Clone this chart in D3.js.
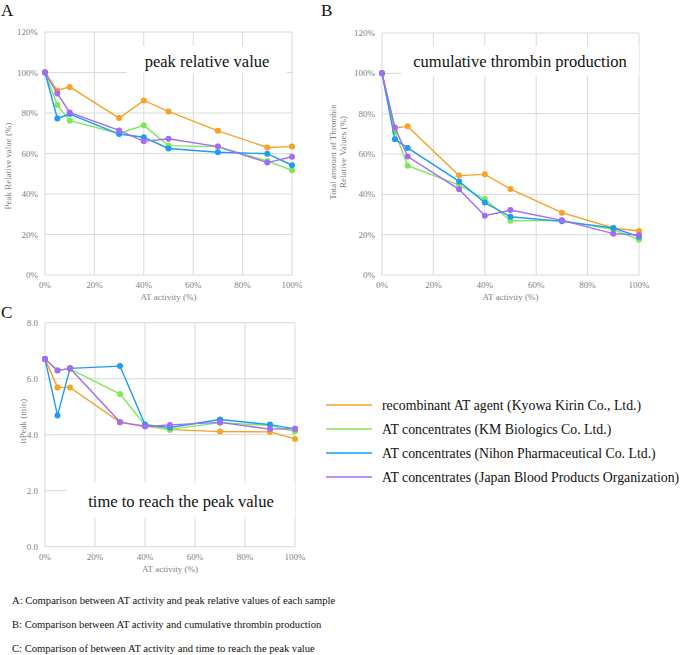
<!DOCTYPE html>
<html>
<head>
<meta charset="utf-8">
<script src="https://cdn.jsdelivr.net/npm/d3@7"></script>
<style>
  body { margin: 0; background: #fff; }
  svg { display: block; }
  text { font-family: "Liberation Serif", "Times New Roman", "DejaVu Serif", serif; }
</style>
</head>
<body>
<div id="chart"></div>
<script>
// AT activity levels (x values, %)
var atActivity = [0, 5, 10, 30, 40, 50, 70, 90, 100];

var seriesNames = [
  "recombinant AT agent (Kyowa Kirin Co., Ltd.)",
  "AT concentrates (KM Biologics Co. Ltd.)",
  "AT concentrates (Nihon Pharmaceutical Co. Ltd.)",
  "AT concentrates (Japan Blood Products Organization)"
];
var seriesColors = ["#f7a226", "#7ee85c", "#1d9cf2", "#a46cf2"];

// A: peak relative value (%)
var peakKyowa = [100, 91.1, 92.9, 77.5, 86.2, 80.8, 71.2, 63.0, 63.4];
var peakKM    = [100, 83.9, 76.2, 69.9, 73.9, 63.9, 63.4, 56.3, 51.7];
var peakNihon = [100, 77.3, 79.5, 69.6, 68.0, 62.5, 60.6, 59.9, 54.2];
var peakJBPO  = [100, 89.6, 80.3, 71.4, 66.0, 67.3, 63.4, 55.5, 58.4];

// B: cumulative thrombin production (%)
var cumKyowa = [100, 72.9, 73.7, 49.3, 49.9, 42.6, 30.9, 23.3, 21.8];
var cumKM    = [100, 70.9, 54.2, 44.6, 37.7, 26.9, 27.1, 22.5, 17.5];
var cumNihon = [100, 67.3, 63.0, 46.4, 35.9, 28.9, 26.6, 23.3, 19.0];
var cumJBPO  = [100, 73.2, 58.7, 42.5, 29.4, 32.2, 27.1, 20.5, 19.8];

// C: ttPeak (min)
var ttKyowa = [6.70, 5.69, 5.69, 4.44, 4.31, 4.18, 4.11, 4.10, 3.85];
var ttKM    = [6.70, 6.30, 6.35, 5.45, 4.35, 4.19, 4.43, 4.33, 4.11];
var ttNihon = [6.70, 4.69, 6.37, 6.45, 4.36, 4.26, 4.54, 4.36, 4.21];
var ttJBPO  = [6.70, 6.29, 6.37, 4.45, 4.29, 4.35, 4.44, 4.20, 4.21];

var xTicks = [0, 20, 40, 60, 80, 100];
var pctTicks = [0, 20, 40, 60, 80, 100, 120];
var minTicks = [0, 2, 4, 6, 8];

var captions = [
  "A: Comparison between AT activity and peak relative values of each sample",
  "B: Comparison between AT activity and cumulative thrombin production",
  "C: Comparison of between AT activity and time to reach the peak value"
];

var grey = "#7f7f7f";
var gridColor = "#d9d9d9";

var svg = d3.select("#chart").append("svg")
  .attr("width", 685)
  .attr("height", 655);

function drawPanel(p) {
  var x = d3.scaleLinear().domain([0, 100]).range([p.left, p.right]);
  var y = d3.scaleLinear().domain(p.yDomain).range([p.bottom, p.top]);
  var g = svg.append("g");

  // grid
  g.selectAll(".hg").data(p.yTicks).enter().append("line")
    .attr("x1", p.left).attr("x2", p.right)
    .attr("y1", function(d) { return y(d); }).attr("y2", function(d) { return y(d); })
    .attr("stroke", gridColor).attr("stroke-width", 1);
  g.selectAll(".vg").data(xTicks).enter().append("line")
    .attr("y1", p.top).attr("y2", p.bottom)
    .attr("x1", function(d) { return x(d); }).attr("x2", function(d) { return x(d); })
    .attr("stroke", gridColor).attr("stroke-width", 1);

  // tick labels
  g.selectAll(".yl").data(p.yTicks).enter().append("text")
    .attr("x", p.left - 7).attr("y", function(d) { return y(d) + 3; })
    .attr("text-anchor", "end")
    .attr("font-size", 9).attr("fill", grey)
    .text(p.yFormat);
  g.selectAll(".xl").data(xTicks).enter().append("text")
    .attr("x", function(d) { return x(d); }).attr("y", p.bottom + 13)
    .attr("text-anchor", "middle")
    .attr("font-size", 9).attr("fill", grey)
    .text(function(d) { return d + "%"; });

  // axis titles
  g.append("text")
    .attr("x", (p.left + p.right) / 2).attr("y", p.bottom + 25)
    .attr("text-anchor", "middle")
    .attr("font-size", 9).attr("fill", grey)
    .text("AT activity (%)");
  var yt = g.append("text")
    .attr("transform", "translate(" + p.yTitleX + "," + p.yTitleY + ") rotate(-90)")
    .attr("text-anchor", "middle")
    .attr("font-size", 9).attr("fill", grey);
  p.yTitle.forEach(function(line, i) {
    yt.append("tspan").attr("x", 0).attr("dy", i === 0 ? 0 : 10).text(line);
  });

  // white title box
  g.append("rect")
    .attr("x", p.box[0]).attr("y", p.box[1])
    .attr("width", p.box[2]).attr("height", p.box[3])
    .attr("fill", "#fff");
  g.append("text")
    .attr("x", p.box[0] + p.box[2] / 2).attr("y", p.titleY)
    .attr("text-anchor", "middle")
    .attr("font-size", 16.5).attr("fill", "#111")
    .text(p.title);

  // panel letter
  g.append("text")
    .attr("x", p.letterX).attr("y", p.letterY)
    .attr("font-size", 17).attr("fill", "#111")
    .text(p.letter);

  var line = d3.line()
    .x(function(d, i) { return x(atActivity[i]); })
    .y(function(d) { return y(d); });

  p.series.forEach(function(vals, si) {
    g.append("path")
      .datum(vals)
      .attr("d", line)
      .attr("fill", "none")
      .attr("stroke", seriesColors[si])
      .attr("stroke-width", 1.4);
    g.selectAll(".pt" + si).data(vals).enter().append("circle")
      .attr("cx", function(d, i) { return x(atActivity[i]); })
      .attr("cy", function(d) { return y(d); })
      .attr("r", 3)
      .attr("fill", seriesColors[si]);
  });
}

drawPanel({
  letter: "A", letterX: 1, letterY: 16,
  left: 45, right: 292, top: 32, bottom: 275,
  yDomain: [0, 120], yTicks: pctTicks,
  yFormat: function(d) { return d + "%"; },
  yTitle: ["Peak Relative value (%)"], yTitleX: 11, yTitleY: 166,
  title: "peak relative value", box: [127, 46, 160, 27], titleY: 67,
  series: [peakKyowa, peakKM, peakNihon, peakJBPO]
});

drawPanel({
  letter: "B", letterX: 321, letterY: 16,
  left: 382, right: 639, top: 33, bottom: 275,
  yDomain: [0, 120], yTicks: pctTicks,
  yFormat: function(d) { return d + "%"; },
  yTitle: ["Total amount of Thrombin", "Relative Values (%)"], yTitleX: 336, yTitleY: 152,
  title: "cumulative thrombin production", box: [401, 46, 238, 30], titleY: 67,
  series: [cumKyowa, cumKM, cumNihon, cumJBPO]
});

drawPanel({
  letter: "C", letterX: 1, letterY: 318,
  left: 45, right: 295, top: 322.7, bottom: 546.7,
  yDomain: [0, 8], yTicks: minTicks,
  yFormat: function(d) { return d.toFixed(1); },
  yTitle: ["ttPeak (min)"], yTitleX: 26, yTitleY: 421,
  title: "time to reach the peak value", box: [67, 483, 228, 34], titleY: 507,
  series: [ttKyowa, ttKM, ttNihon, ttJBPO]
});

// legend
var legend = svg.append("g").selectAll("g").data(seriesNames).enter().append("g")
  .attr("transform", function(d, i) { return "translate(0," + (405 + i * 24) + ")"; });
legend.append("line")
  .attr("x1", 326).attr("x2", 372).attr("y1", 0).attr("y2", 0)
  .attr("stroke", function(d, i) { return seriesColors[i]; })
  .attr("stroke-width", 1.6);
legend.append("text")
  .attr("x", 382).attr("y", 4.5)
  .attr("font-size", 13.8).attr("fill", "#111")
  .text(function(d) { return d; });

// captions
svg.append("g").selectAll("text").data(captions).enter().append("text")
  .attr("x", 12).attr("y", function(d, i) { return 604 + i * 24; })
  .attr("font-size", 10.6).attr("fill", "#111")
  .text(function(d) { return d; });
</script>
</body>
</html>
